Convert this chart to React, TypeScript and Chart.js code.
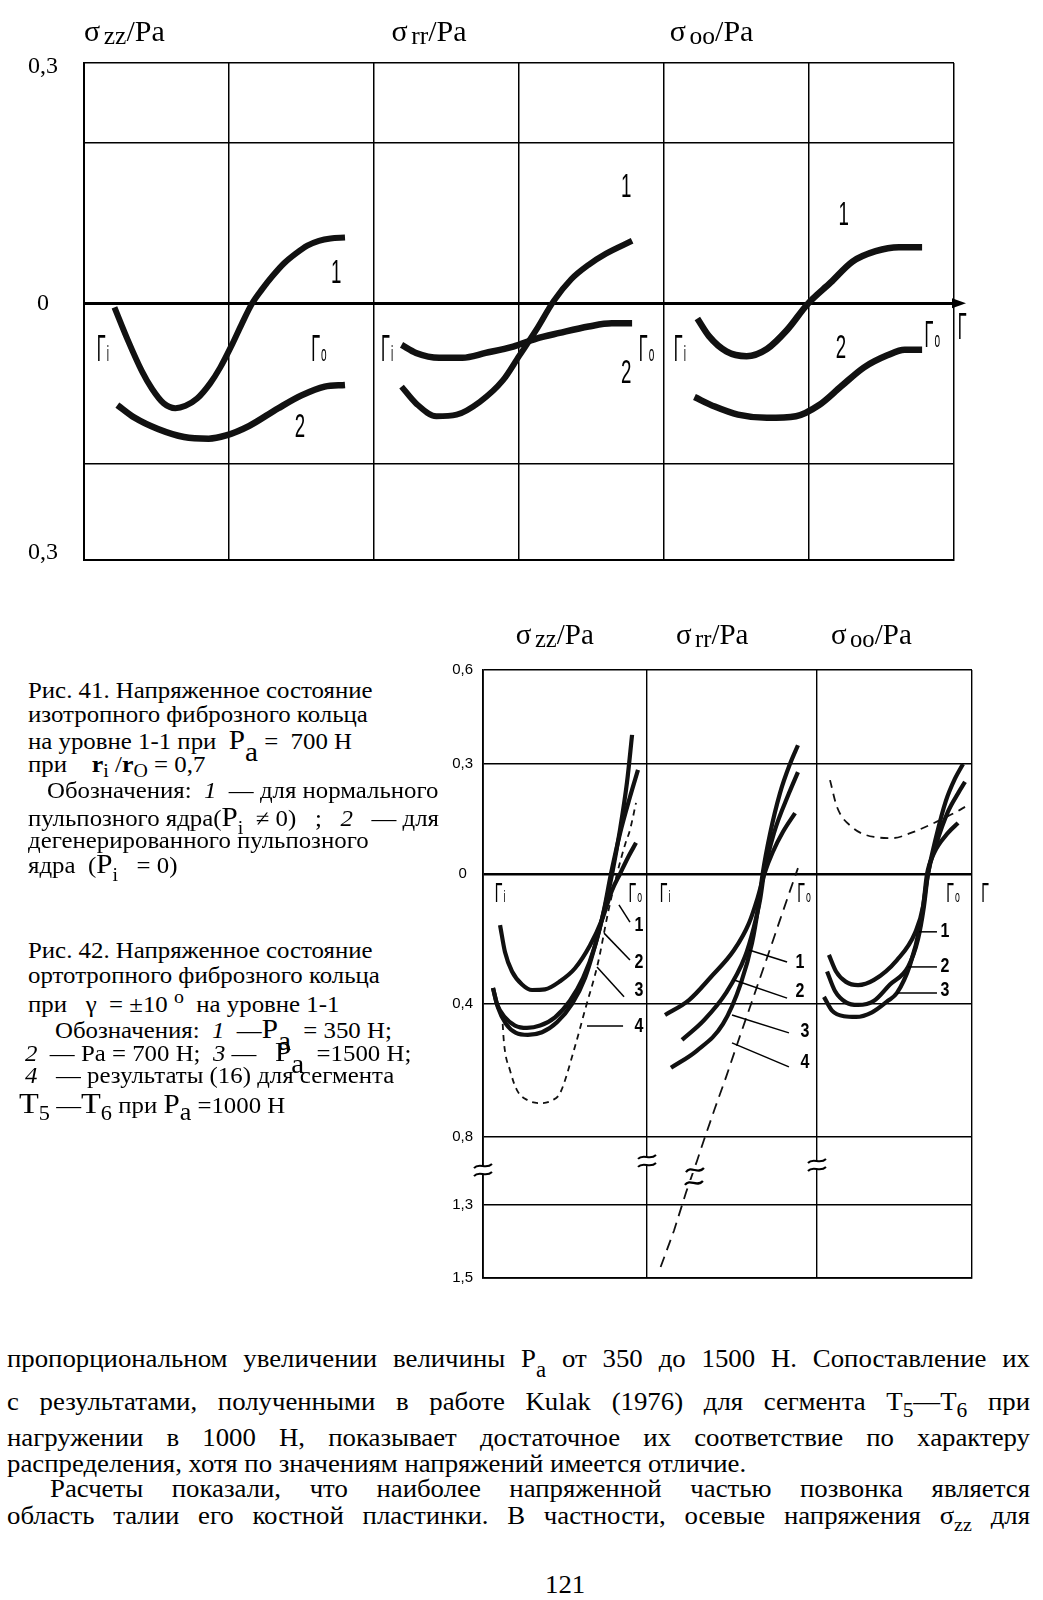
import React, { useEffect, useRef } from 'react';
import { Chart, LinearScale, registerables } from 'chart.js';

// ================= DATA : Fig. 41 =================
const f41Panels = ['zz', 'rr', 'oo'];
const f41XTicks = [0, 1, 2, 3, 4, 5, 6];
const f41YTicks = [-0.32, -0.312, -0.2, 0, 0.2, 0.296, 0.3];
const f41YLabels = ['', '0,3', '', '0', '', '0,3', ''];

const zz41c1x = [0.21, 0.30, 0.40, 0.47, 0.55, 0.63, 0.70, 0.78, 0.87, 0.94, 1.02, 1.09, 1.16, 1.23, 1.30, 1.38, 1.46, 1.54, 1.62, 1.70, 1.80];
const zz41c1y = [-0.005, -0.045, -0.085, -0.107, -0.125, -0.131, -0.128, -0.119, -0.100, -0.080, -0.052, -0.025, 0, 0.018, 0.034, 0.050, 0.062, 0.072, 0.078, 0.081, 0.082];
const zz41c2x = [0.23, 0.35, 0.51, 0.69, 0.86, 0.98, 1.14, 1.34, 1.50, 1.66, 1.80];
const zz41c2y = [-0.127, -0.143, -0.157, -0.167, -0.169, -0.165, -0.153, -0.131, -0.115, -0.104, -0.102];
const rr41c1x = [2.19, 2.29, 2.43, 2.57, 2.73, 2.89, 3.00, 3.12, 3.24, 3.36, 3.48, 3.60, 3.78];
const rr41c1y = [-0.104, -0.125, -0.141, -0.139, -0.123, -0.096, -0.066, -0.033, 0.003, 0.030, 0.048, 0.062, 0.078];
const rr41c2x = [2.19, 2.29, 2.45, 2.61, 2.77, 2.96, 3.12, 3.28, 3.48, 3.64, 3.78];
const rr41c2y = [-0.052, -0.062, -0.068, -0.068, -0.062, -0.054, -0.044, -0.037, -0.029, -0.025, -0.025];
const oo41c1x = [4.23, 4.31, 4.43, 4.57, 4.71, 4.85, 4.99, 5.15, 5.30, 5.46, 5.62, 5.78];
const oo41c1y = [-0.019, -0.041, -0.060, -0.066, -0.057, -0.033, -0.001, 0.026, 0.052, 0.065, 0.070, 0.070];
const oo41c2x = [4.21, 4.35, 4.51, 4.71, 4.91, 5.07, 5.22, 5.38, 5.54, 5.66, 5.78];
const oo41c2y = [-0.117, -0.129, -0.139, -0.143, -0.141, -0.127, -0.104, -0.080, -0.065, -0.058, -0.058];

const f41NumText = ['1', '2', '1', '2', '1', '2'];
const f41NumX = [1.74, 1.49, 3.74, 3.74, 5.24, 5.22];
const f41NumY = [0.037, -0.155, 0.145, -0.088, 0.109, -0.056];
const f41RSub = ['i', 'o', 'i', 'o', 'i', 'o', ''];
const f41RX = [0.13, 1.62, 2.09, 3.88, 4.11, 5.85, 6.06];
const f41RY = [-0.056, -0.056, -0.056, -0.056, -0.056, -0.038, -0.028];

// ================= DATA : Fig. 42 =================
const f42Panels = ['zz', 'rr', 'oo'];
const f42XTicks = [0, 1, 2, 3];
const f42YTicks = [-1.5, -1.3, -0.8, -0.4, 0, 0.3, 0.6];
const f42YLabels = ['1,5', '1,3', '0,8', '0,4', '0', '0,3', '0,6'];

const zz42c1x = [0.104, 0.134, 0.177, 0.238, 0.299, 0.378, 0.470, 0.561, 0.652, 0.726, 0.787, 0.835, 0.884, 0.933];
const zz42c1y = [-0.157, -0.24, -0.30, -0.34, -0.357, -0.355, -0.33, -0.29, -0.22, -0.14, -0.05, 0.0, 0.045, 0.085];
const zz42c2x = [0.061, 0.085, 0.134, 0.195, 0.268, 0.348, 0.439, 0.530, 0.610, 0.683, 0.738, 0.780, 0.835, 0.896, 0.945];
const zz42c2y = [-0.351, -0.40, -0.44, -0.465, -0.472, -0.465, -0.44, -0.39, -0.32, -0.22, -0.11, 0.0, 0.11, 0.21, 0.284];
const zz42c3x = [0.061, 0.091, 0.140, 0.201, 0.274, 0.360, 0.451, 0.543, 0.622, 0.689, 0.744, 0.787, 0.835, 0.878, 0.909];
const zz42c3y = [-0.351, -0.41, -0.46, -0.487, -0.493, -0.485, -0.455, -0.40, -0.32, -0.21, -0.10, 0.0, 0.12, 0.25, 0.393];
const zz42c4x = [0.116, 0.128, 0.165, 0.207, 0.274, 0.354, 0.421, 0.470, 0.555, 0.622, 0.701, 0.762, 0.817, 0.866, 0.896, 0.933];
const zz42c4y = [-0.427, -0.517, -0.60, -0.659, -0.69, -0.698, -0.69, -0.668, -0.538, -0.418, -0.274, -0.12, 0.0, 0.08, 0.12, 0.194];

const rr42c1x = [1.106, 1.247, 1.376, 1.512, 1.6, 1.65, 1.69, 1.74, 1.80, 1.871];
const rr42c1y = [-0.433, -0.388, -0.317, -0.234, -0.151, -0.075, 0, 0.06, 0.115, 0.166];
const rr42c2x = [1.206, 1.335, 1.465, 1.576, 1.629, 1.665, 1.688, 1.747, 1.835, 1.888];
const rr42c2y = [-0.508, -0.449, -0.366, -0.255, -0.163, -0.08, 0, 0.112, 0.22, 0.278];
const rr42c3x = [1.141, 1.294, 1.447, 1.553, 1.618, 1.655, 1.680, 1.724, 1.782, 1.841, 1.888];
const rr42c3y = [-0.592, -0.54, -0.46, -0.335, -0.212, -0.1, 0, 0.11, 0.22, 0.30, 0.36];
const rr42c4x = [1.08, 1.159, 1.229, 1.294, 1.335, 1.4, 1.465, 1.553, 1.606, 1.665, 1.724, 1.782, 1.841, 1.888];
const rr42c4y = [-1.47, -1.37, -1.21, -0.976, -0.822, -0.713, -0.62, -0.487, -0.409, -0.32, -0.231, -0.142, -0.052, 0.016];

const oo42c1x = [2.077, 2.123, 2.187, 2.265, 2.368, 2.516, 2.632, 2.684, 2.71, 2.755, 2.845, 2.91];
const oo42c1y = [-0.249, -0.30, -0.332, -0.342, -0.326, -0.265, -0.182, -0.10, 0, 0.057, 0.112, 0.139];
const oo42c2x = [2.065, 2.116, 2.187, 2.265, 2.368, 2.471, 2.587, 2.652, 2.69, 2.716, 2.768, 2.845, 2.91, 2.955];
const oo42c2y = [-0.30, -0.36, -0.395, -0.403, -0.39, -0.34, -0.286, -0.2, -0.10, 0, 0.08, 0.17, 0.22, 0.251];
const oo42c3x = [2.045, 2.097, 2.174, 2.252, 2.355, 2.458, 2.516, 2.6, 2.665, 2.716, 2.768, 2.832, 2.89, 2.942];
const oo42c3y = [-0.378, -0.42, -0.437, -0.439, -0.425, -0.39, -0.366, -0.28, -0.16, 0, 0.10, 0.20, 0.26, 0.30];
const oo42c4x = [2.084, 2.129, 2.226, 2.368, 2.49, 2.606, 2.755, 2.897, 2.955];
const oo42c4y = [0.256, 0.183, 0.128, 0.101, 0.098, 0.112, 0.139, 0.169, 0.183];

const f42NumText = ['1', '2', '3', '4', '1', '2', '3', '4', '1', '2', '3'];
const f42NumX = [0.951, 0.951, 0.951, 0.951, 1.9, 1.9, 1.929, 1.929, 2.826, 2.826, 2.826];
const f42NumY = [-0.157, -0.271, -0.357, -0.469, -0.271, -0.363, -0.484, -0.577, -0.178, -0.286, -0.357];
const f42LeadX1 = [0.829, 0.738, 0.695, 0.634, 1.6, 1.512, 1.5, 1.5, 2.658, 2.587, 2.516];
const f42LeadY1 = [-0.095, -0.182, -0.286, -0.466, -0.234, -0.326, -0.433, -0.517, -0.178, -0.286, -0.366];
const f42LeadX2 = [0.896, 0.896, 0.860, 0.854, 1.824, 1.824, 1.835, 1.835, 2.774, 2.774, 2.774];
const f42LeadY2 = [-0.148, -0.265, -0.378, -0.466, -0.271, -0.382, -0.487, -0.589, -0.178, -0.286, -0.366];
const f42RSub = ['i', 'o', 'i', 'o', 'o', ''];
const f42RX = [0.104, 0.929, 1.106, 1.924, 2.877, 3.087];
const f42RY = [-0.055, -0.055, -0.055, -0.055, -0.055, -0.055];
const f42BreakX = [0, 1, 2];
const f42BreakY = [-1.043, -0.976, -1.006];
const f42TildeX = [1.282, 1.276];
const f42TildeY = [-1.043, -1.138];

// ================= STYLE / LAYOUT =================
const NARROW = '"Liberation Sans Narrow", "Liberation Sans", "DejaVu Sans", Arial, sans-serif';
const SERIF = '"Liberation Serif", "Times New Roman", serif';
const F41_TITLE_U = [0.0, 2.12, 4.04];
const F42_TITLE_U = [0.2, 1.17, 2.09];
const F42_X_POS = [0, 0.3354, 0.683, 1];
const F42_Y_POS = [0, 0.1201, 0.2319, 0.4507, 0.6645, 0.8454, 1];

// piecewise-linear scale (hand drawn, broken axis)
class PiecewiseScale extends LinearScale {
  static id = 'piecewise';
  static defaults = {};
  getPixelForValue(value: number) {
    const s: any = this;
    if (value === null || value === undefined || isNaN(value)) return NaN;
    const v: number[] = s.$bv, p: number[] = s.$bp;
    if (!v || !p) return super.getPixelForValue(value);
    let i = 0;
    while (i < v.length - 2 && value > v[i + 1]) i++;
    const t = (value - v[i]) / (v[i + 1] - v[i]);
    return this.getPixelForDecimal(p[i] + t * (p[i + 1] - p[i]));
  }
  getValueForPixel(pixel: number) {
    const s: any = this;
    const v: number[] = s.$bv, p: number[] = s.$bp;
    if (!v || !p) return super.getValueForPixel(pixel);
    const d = this.getDecimalForPixel(pixel);
    let i = 0;
    while (i < p.length - 2 && d > p[i + 1]) i++;
    const t = (d - p[i]) / (p[i + 1] - p[i]);
    return v[i] + t * (v[i + 1] - v[i]);
  }
}
Chart.register(...registerables, PiecewiseScale as any);

function drawText(ctx: any, text: string, x: number, y: number, size: number, sx: number,
  align = 'center', baseline = 'middle', family = NARROW, weight = '') {
  ctx.save();
  ctx.font = `${weight} ${size}px ${family}`;
  ctx.textAlign = align; ctx.textBaseline = baseline;
  ctx.fillStyle = '#000';
  ctx.translate(x, y); ctx.scale(sx, 1);
  ctx.fillText(text, 0, 0);
  ctx.restore();
}

function drawR(ctx: any, sub: string, x: number, y: number, size: number, sx: number) {
  ctx.save();
  ctx.font = `${size}px ${NARROW}`;
  const wG = ctx.measureText('Γ').width * sx;
  ctx.font = `${size * 0.62}px ${NARROW}`;
  const wS = sub ? ctx.measureText(sub).width * sx : 0;
  ctx.restore();
  const left = x - (wG + wS + 1) / 2;
  const base = y + size * 0.36;
  drawText(ctx, 'Γ', left, base, size, sx, 'left', 'alphabetic');
  if (sub) drawText(ctx, sub, left + wG + 1, base, size * 0.62, sx, 'left', 'alphabetic');
}

function drawSigma(ctx: any, sub: string, x: number, base: number, size: number) {
  ctx.save();
  ctx.fillStyle = '#000'; ctx.textBaseline = 'alphabetic'; ctx.textAlign = 'left';
  ctx.font = `${size}px ${SERIF}`;
  ctx.fillText('σ', x, base);
  let cx = x + ctx.measureText('σ').width + size * 0.12;
  ctx.font = `${size * 0.85}px ${SERIF}`;
  ctx.fillText(sub, cx, base + size * 0.1);
  cx += ctx.measureText(sub).width;
  ctx.font = `${size}px ${SERIF}`;
  ctx.fillText('/Pa', cx, base);
  ctx.restore();
}

function drawBreak(ctx: any, px: number, py: number) {
  ctx.save();
  ctx.fillStyle = '#fff';
  ctx.fillRect(px - 3, py - 4, 6, 8);
  ctx.strokeStyle = '#000'; ctx.lineWidth = 2;
  for (const dy of [-4, 4]) {
    ctx.beginPath();
    ctx.moveTo(px - 9, py + dy + 2);
    ctx.bezierCurveTo(px - 4, py + dy - 4, px + 3, py + dy + 4, px + 9, py + dy - 2);
    ctx.stroke();
  }
  ctx.restore();
}

function drawTilde(ctx: any, px: number, py: number) {
  ctx.save();
  ctx.fillStyle = '#fff';
  ctx.fillRect(px - 7, py - 3, 14, 6);
  ctx.strokeStyle = '#000'; ctx.lineWidth = 2.2;
  ctx.beginPath();
  ctx.moveTo(px - 9, py + 2);
  ctx.bezierCurveTo(px - 4, py - 5, px + 3, py + 5, px + 9, py - 2);
  ctx.stroke();
  ctx.restore();
}

const deco41 = {
  id: 'deco41',
  afterDatasetsDraw(chart: any) {
    const { ctx, chartArea: ca, scales: { x, y } } = chart;
    F41_TITLE_U.forEach((u, i) => drawSigma(ctx, f41Panels[i], x.getPixelForValue(u), ca.top - 22, 30));
    f41NumText.forEach((t, i) => drawText(ctx, t, x.getPixelForValue(f41NumX[i]), y.getPixelForValue(f41NumY[i]), 34, 0.55));
    f41RSub.forEach((s, i) => drawR(ctx, s, x.getPixelForValue(f41RX[i]), y.getPixelForValue(f41RY[i]), 36, 0.45));
    const y0 = y.getPixelForValue(0);
    ctx.save();
    ctx.fillStyle = '#000';
    ctx.beginPath();
    ctx.moveTo(ca.right + 12, y0);
    ctx.lineTo(ca.right - 2, y0 - 5);
    ctx.lineTo(ca.right - 2, y0 + 5);
    ctx.closePath();
    ctx.fill();
    ctx.restore();
  },
};

const deco42 = {
  id: 'deco42',
  afterDatasetsDraw(chart: any) {
    const { ctx, chartArea: ca, scales: { x, y } } = chart;
    F42_TITLE_U.forEach((u, i) => drawSigma(ctx, f42Panels[i], x.getPixelForValue(u), ca.top - 26, 29));
    ctx.save();
    ctx.strokeStyle = '#000'; ctx.lineWidth = 1.5;
    f42LeadX1.forEach((_, i) => {
      ctx.beginPath();
      ctx.moveTo(x.getPixelForValue(f42LeadX1[i]), y.getPixelForValue(f42LeadY1[i]));
      ctx.lineTo(x.getPixelForValue(f42LeadX2[i]), y.getPixelForValue(f42LeadY2[i]));
      ctx.stroke();
    });
    ctx.restore();
    f42NumText.forEach((t, i) => drawText(ctx, t, x.getPixelForValue(f42NumX[i]), y.getPixelForValue(f42NumY[i]), 20, 0.8, 'center', 'middle', NARROW, 'bold'));
    f42RSub.forEach((s, i) => drawR(ctx, s, x.getPixelForValue(f42RX[i]), y.getPixelForValue(f42RY[i]), 28, 0.5));
    f42BreakX.forEach((u, i) => drawBreak(ctx, x.getPixelForValue(u), y.getPixelForValue(f42BreakY[i])));
    f42TildeX.forEach((u, i) => drawTilde(ctx, x.getPixelForValue(u), y.getPixelForValue(f42TildeY[i])));
  },
};

function series(xs: number[], ys: number[], width: number, dash: number[] = [], tension = true) {
  return {
    data: xs.map((v, i) => ({ x: v, y: ys[i] })),
    borderColor: '#111', borderWidth: width, borderDash: dash,
    pointRadius: 0, fill: false, borderCapStyle: 'butt',
    cubicInterpolationMode: tension ? 'monotone' : 'default', tension: 0,
  };
}

function config41(): any {
  return {
    type: 'line',
    data: {
      datasets: [
        series(zz41c1x, zz41c1y, 6), series(zz41c2x, zz41c2y, 6.5),
        series(rr41c1x, rr41c1y, 6), series(rr41c2x, rr41c2y, 6.5),
        series(oo41c1x, oo41c1y, 6.5), series(oo41c2x, oo41c2y, 6.5),
      ],
    },
    options: {
      responsive: false, animation: false, events: [],
      layout: { padding: { left: 0, top: 63, right: 89, bottom: 12 } },
      plugins: { legend: { display: false }, tooltip: { enabled: false } },
      scales: {
        x: {
          type: 'linear', min: 0, max: 6, bounds: 'data',
          afterBuildTicks: (s: any) => { s.ticks = f41XTicks.map((v) => ({ value: v })); },
          afterFit: (s: any) => { s.height = 0; },
          ticks: { display: false },
          grid: { color: '#000', lineWidth: 1.5, drawTicks: false },
          border: { display: true, color: '#000', width: 2 },
        },
        y: {
          type: 'linear', min: -0.32, max: 0.3, bounds: 'data',
          afterBuildTicks: (s: any) => { s.ticks = f41YTicks.map((v) => ({ value: v })); },
          afterFit: (s: any) => { s.width = 84; },
          ticks: {
            autoSkip: false, crossAlign: 'center', padding: 26, color: '#000',
            font: { family: SERIF, size: 24 },
            callback: (_v: any, i: number) => f41YLabels[i],
          },
          grid: {
            drawTicks: false,
            color: (c: any) => (c.tick && (c.tick.value === -0.312 || c.tick.value === 0.296) ? 'rgba(0,0,0,0)' : '#000'),
            lineWidth: (c: any) => (c.tick && c.tick.value === 0 ? 3 : 1.5),
          },
          border: { display: true, color: '#000', width: 2 },
        },
      },
    },
    plugins: [deco41],
  };
}

function config42(): any {
  return {
    type: 'line',
    data: {
      datasets: [
        series(zz42c1x, zz42c1y, 4.2), series(zz42c2x, zz42c2y, 4.2), series(zz42c3x, zz42c3y, 4.2),
        series(zz42c4x, zz42c4y, 1.8, [6, 5]),
        series(rr42c1x, rr42c1y, 4.2), series(rr42c2x, rr42c2y, 4.2), series(rr42c3x, rr42c3y, 4.2),
        series(rr42c4x, rr42c4y, 1.8, [11, 7], false),
        series(oo42c1x, oo42c1y, 4.2), series(oo42c2x, oo42c2y, 4.2), series(oo42c3x, oo42c3y, 4.2),
        series(oo42c4x, oo42c4y, 1.8, [8, 6]),
      ],
    },
    options: {
      responsive: false, animation: false, events: [],
      layout: { padding: { left: 0, top: 70, right: 71, bottom: 22 } },
      plugins: { legend: { display: false }, tooltip: { enabled: false } },
      scales: {
        x: {
          type: 'piecewise', min: 0, max: 3, bounds: 'data',
          beforeUpdate: (s: any) => { s.$bv = f42XTicks; s.$bp = F42_X_POS; },
          afterBuildTicks: (s: any) => { s.ticks = f42XTicks.map((v) => ({ value: v })); },
          afterFit: (s: any) => { s.height = 0; },
          ticks: { display: false },
          grid: { color: '#000', lineWidth: 1.4, drawTicks: false },
          border: { display: true, color: '#000', width: 1.8 },
        },
        y: {
          type: 'piecewise', min: -1.5, max: 0.6, bounds: 'data',
          beforeUpdate: (s: any) => { s.$bv = f42YTicks; s.$bp = F42_Y_POS; },
          afterBuildTicks: (s: any) => { s.ticks = f42YTicks.map((v) => ({ value: v })); },
          afterFit: (s: any) => { s.width = 83; },
          ticks: {
            autoSkip: false, crossAlign: 'center', padding: 10, color: '#000',
            font: { family: NARROW, size: 15 },
            callback: (_v: any, i: number) => f42YLabels[i],
          },
          grid: {
            drawTicks: false, color: '#000',
            lineWidth: (c: any) => (c.tick && c.tick.value === 0 ? 2.6 : 1.5),
          },
          border: { display: true, color: '#000', width: 1.8 },
        },
      },
    },
    plugins: [deco42],
  };
}

// ================= TEXT HELPERS =================
function T({ x, b, fs = 22, sx = 1, w, justify, children, style }: any) {
  return (
    <div
      style={{
        position: 'absolute', left: x, top: b - fs * 0.84, fontFamily: SERIF, fontSize: fs,
        lineHeight: `${fs}px`, whiteSpace: justify ? 'normal' : 'pre', color: '#000',
        width: w ? w / sx : undefined, textAlign: justify ? 'justify' : 'left',
        textAlignLast: justify ? 'justify' : undefined,
        transform: `scaleX(${sx})`, transformOrigin: '0 0', ...style,
      } as any}
    >
      {children}
    </div>
  );
}
const Lo = ({ children, dy = 0.3, s = 0.8, style }: any) => (
  <span style={{ fontSize: `${s}em`, position: 'relative', top: `${dy}em`, ...style }}>{children}</span>
);
const Pa = ({ size = 27, dy = 12 }: any) => (
  <span style={{ fontSize: size }}>P<span style={{ position: 'relative', top: dy }}>a</span></span>
);

const CF = 23;   // caption font size
const CS = 1.08; // caption horizontal stretch
const BF = 26;   // body font size
const BS = 1.03; // body horizontal stretch

export default function App() {
  const r41 = useRef<HTMLCanvasElement>(null);
  const r42 = useRef<HTMLCanvasElement>(null);
  useEffect(() => {
    const c1 = new Chart(r41.current as any, config41());
    const c2 = new Chart(r42.current as any, config42());
    return () => { c1.destroy(); c2.destroy(); };
  }, []);

  return (
    <div style={{ position: 'absolute', left: 0, top: 0, width: 1043, height: 1600, background: '#fff', overflow: 'hidden' }}>
      <canvas ref={r41} width={1043} height={600} style={{ position: 'absolute', left: 0, top: 0 }} />
      <canvas ref={r42} width={643} height={700} style={{ position: 'absolute', left: 400, top: 600 }} />

      {/* Caption Fig. 41 */}
      <T x={28} b={698} fs={CF} sx={CS}>Рис. 41. Напряженное состояние</T>
      <T x={28} b={722} fs={CF} sx={CS}>изотропного фиброзного кольца</T>
      <T x={28} b={748} fs={CF} sx={CS}>
        {'на уровне 1-1 при  '}<Pa />{' =  700 Н'}
      </T>
      <T x={28} b={772} fs={CF} sx={CS}>
        {'при    '}<b style={{ fontSize: 24 }}>r</b><Lo>i</Lo>{' /'}<b style={{ fontSize: 24 }}>r</b><Lo>O</Lo>{' = 0,7'}
      </T>
      <T x={47} b={798} fs={CF} sx={CS}>{'Обозначения:  '}<i>1</i>{'  — для нормального'}</T>
      <T x={28} b={825} fs={CF} sx={CS}>
        {'пульпозного ядра('}<span style={{ fontSize: 27 }}>P</span><Lo dy={0.45}>i</Lo>{'  ≠ 0)   ;   '}<i>2</i>{'   — для'}
      </T>
      <T x={28} b={848} fs={CF} sx={CS}>дегенерированного пульпозного</T>
      <T x={28} b={872} fs={CF} sx={CS}>
        {'ядра  ('}<span style={{ fontSize: 27 }}>P</span><Lo dy={0.45}>i</Lo>{'   = 0)'}
      </T>

      {/* Caption Fig. 42 */}
      <T x={28} b={958} fs={CF} sx={CS}>Рис. 42. Напряженное состояние</T>
      <T x={28} b={983} fs={CF} sx={CS}>ортотропного фиброзного кольца</T>
      <T x={28} b={1012} fs={CF} sx={CS}>
        {'при   γ  = ±10 '}<Lo dy={-0.45}>o</Lo>{'  на уровне 1-1'}
      </T>
      <T x={55} b={1037} fs={CF} sx={CS}>
        {'Обозначения:  '}<i>1</i>{'  —'}<Pa />{'  = 350 Н;'}
      </T>
      <T x={25} b={1060} fs={CF} sx={CS}>
        <i>2</i>{'  — Ра = 700 Н;  '}<i>3</i>{' —   '}<Pa />{'  =1500 Н;'}
      </T>
      <T x={25} b={1083} fs={CF} sx={CS}>
        <i>4</i>{'   — результаты (16) для сегмента'}
      </T>
      <T x={19} b={1110} fs={CF} sx={CS}>
        <span style={{ fontSize: 30 }}>T</span><Lo s={0.9} dy={0.35}>5</Lo>{' —'}<span style={{ fontSize: 30 }}>T</span><Lo s={0.9} dy={0.35}>6</Lo>
        {' при '}<span style={{ fontSize: 27 }}>P</span><Lo s={1.05} dy={0.3}>a</Lo>{' =1000 Н'}
      </T>

      {/* Body text */}
      <T x={7} b={1368} fs={BF} sx={BS} w={1023} justify>
        пропорциональном увеличении величины P<Lo dy={0.45} s={0.85}>a</Lo> от 350 до 1500 Н. Сопоставление их
      </T>
      <T x={7} b={1411} fs={BF} sx={BS} w={1023} justify>
        с результатами, полученными в работе Kulak (1976) для сегмента T<Lo dy={0.35} s={0.8}>5</Lo>—T<Lo dy={0.35} s={0.8}>6</Lo> при
      </T>
      <T x={7} b={1447} fs={BF} sx={BS} w={1023} justify>
        нагружении в 1000 Н, показывает достаточное их соответствие по характеру
      </T>
      <T x={7} b={1473} fs={BF} sx={BS}>
        распределения, хотя по значениям напряжений имеется отличие.
      </T>
      <T x={50} b={1498} fs={BF} sx={BS} w={980} justify>
        Расчеты показали, что наиболее напряженной частью позвонка является
      </T>
      <T x={7} b={1525} fs={BF} sx={BS} w={1023} justify>
        область талии его костной пластинки. В частности, осевые напряжения σ<Lo dy={0.35} s={0.75}>zz</Lo> для
      </T>
      <T x={545} b={1594} fs={BF} sx={BS}>121</T>
    </div>
  );
}
